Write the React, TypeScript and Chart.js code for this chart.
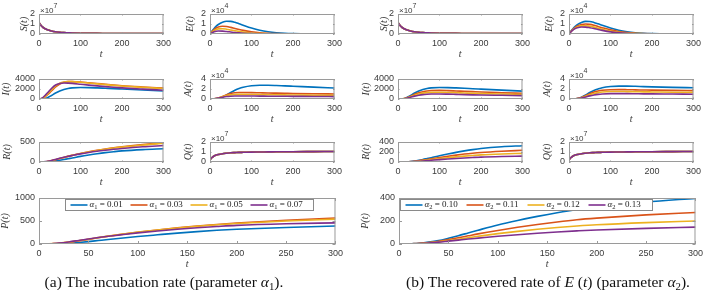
import React, { useEffect, useRef } from "react";
import { Chart, registerables } from "chart.js";

Chart.register(...registerables);

// ---------------- data ----------------
const T = [0, 5, 10, 15, 20, 30, 40, 50, 60, 70, 80, 100, 120, 140, 160, 180, 200, 250, 300];
const X_TICKS_SMALL = [0, 100, 200, 300];
const X_TICKS_WIDE = [0, 50, 100, 150, 200, 250, 300];

const ALPHA1_VALUES = ["0.01", "0.03", "0.05", "0.07"];
const ALPHA2_VALUES = ["0.10", "0.11", "0.12", "0.13"];

// S(t) and Q(t) in units of 1e7 (curves coincide for every parameter value)
const S_ALL = [1.15, 0.85, 0.65, 0.52, 0.42, 0.3, 0.22, 0.17, 0.14, 0.12, 0.1, 0.08, 0.07, 0.06, 0.055, 0.05, 0.05, 0.045, 0.04];
const Q_ALL = [0.2, 0.45, 0.6, 0.69, 0.75, 0.83, 0.88, 0.92, 0.94, 0.96, 0.97, 0.99, 1.0, 1.01, 1.02, 1.03, 1.03, 1.04, 1.05];

// panel (a): alpha1
const E_A_1 = [0, 0.3, 0.55, 0.78, 0.95, 1.17, 1.27, 1.26, 1.17, 1.03, 0.88, 0.6, 0.38, 0.23, 0.13, 0.07, 0.04, 0.01, 0];
const E_A_2 = [0, 0.25, 0.45, 0.6, 0.7, 0.77, 0.75, 0.66, 0.55, 0.45, 0.36, 0.22, 0.12, 0.07, 0.04, 0.02, 0.01, 0, 0];
const E_A_3 = [0, 0.2, 0.36, 0.46, 0.51, 0.53, 0.48, 0.4, 0.32, 0.25, 0.19, 0.1, 0.05, 0.03, 0.01, 0.01, 0, 0, 0];
const E_A_4 = [0, 0.14, 0.23, 0.28, 0.3, 0.29, 0.25, 0.2, 0.15, 0.11, 0.08, 0.04, 0.02, 0.01, 0, 0, 0, 0, 0];

const I_A_1 = [0, 0, 30, 100, 250, 700, 1200, 1600, 1900, 2100, 2220, 2300, 2280, 2220, 2150, 2080, 2000, 1800, 1600];
const I_A_2 = [0, 50, 200, 450, 800, 1600, 2400, 3000, 3350, 3470, 3480, 3400, 3250, 3100, 2950, 2800, 2650, 2400, 2200];
const I_A_3 = [0, 60, 250, 550, 950, 1800, 2600, 3150, 3400, 3480, 3470, 3350, 3200, 3030, 2880, 2730, 2600, 2320, 2100];
const I_A_4 = [0, 80, 350, 750, 1200, 2100, 2800, 3100, 3200, 3180, 3120, 2950, 2780, 2620, 2480, 2350, 2230, 1980, 1750];

const A_A_1 = [0, 0, 0.01, 0.04, 0.1, 0.35, 0.8, 1.3, 1.75, 2.1, 2.35, 2.65, 2.75, 2.75, 2.7, 2.62, 2.55, 2.38, 2.2];
const A_A_2 = [0, 0.01, 0.04, 0.1, 0.2, 0.5, 0.85, 1.1, 1.25, 1.3, 1.3, 1.28, 1.24, 1.2, 1.17, 1.14, 1.11, 1.05, 1.0];
const A_A_3 = [0, 0.01, 0.05, 0.12, 0.22, 0.45, 0.68, 0.83, 0.9, 0.92, 0.92, 0.9, 0.88, 0.86, 0.84, 0.82, 0.8, 0.76, 0.72];
const A_A_4 = [0, 0.02, 0.06, 0.12, 0.2, 0.36, 0.49, 0.56, 0.59, 0.6, 0.6, 0.59, 0.58, 0.56, 0.55, 0.54, 0.53, 0.5, 0.48];

const R_A_1 = [0, 0, 1, 3, 6, 15, 28, 45, 63, 82, 100, 140, 175, 207, 235, 258, 278, 310, 330];
const R_A_2 = [0, 0, 2, 6, 13, 32, 57, 85, 112, 140, 165, 212, 255, 292, 325, 355, 380, 435, 480];
const R_A_3 = [0, 0, 2, 7, 14, 34, 60, 88, 115, 142, 167, 212, 252, 288, 320, 348, 372, 425, 468];
const R_A_4 = [0, 1, 3, 9, 17, 38, 64, 92, 118, 142, 163, 203, 238, 268, 294, 318, 338, 380, 412];

const P_A_1 = [0, 0, 1, 3, 6, 16, 32, 52, 75, 98, 120, 162, 200, 237, 270, 298, 320, 360, 390];
const P_A_2 = [0, 1, 3, 8, 15, 38, 68, 100, 135, 168, 198, 255, 305, 350, 390, 425, 455, 515, 565];
const P_A_3 = [0, 1, 4, 9, 17, 41, 72, 105, 140, 172, 202, 258, 306, 348, 385, 417, 445, 500, 540];
const P_A_4 = [0, 1, 5, 11, 20, 45, 76, 108, 140, 168, 193, 242, 284, 320, 352, 380, 405, 440, 460];

// panel (b): alpha2
const E_B_1 = [0, 0.3, 0.55, 0.76, 0.93, 1.15, 1.26, 1.25, 1.16, 1.02, 0.87, 0.6, 0.38, 0.23, 0.13, 0.07, 0.04, 0.01, 0];
const E_B_2 = [0, 0.27, 0.5, 0.67, 0.8, 0.95, 1.0, 0.96, 0.87, 0.75, 0.63, 0.41, 0.25, 0.14, 0.08, 0.04, 0.02, 0.01, 0];
const E_B_3 = [0, 0.25, 0.46, 0.6, 0.71, 0.81, 0.83, 0.78, 0.69, 0.58, 0.48, 0.3, 0.17, 0.09, 0.05, 0.03, 0.01, 0, 0];
const E_B_4 = [0, 0.23, 0.42, 0.55, 0.63, 0.7, 0.69, 0.63, 0.55, 0.45, 0.36, 0.21, 0.12, 0.06, 0.03, 0.02, 0.01, 0, 0];

const I_B_1 = [0, 0, 30, 100, 250, 700, 1200, 1600, 1900, 2100, 2220, 2300, 2280, 2220, 2150, 2060, 1980, 1780, 1580];
const I_B_2 = [0, 0, 25, 85, 200, 550, 930, 1240, 1460, 1610, 1690, 1720, 1680, 1610, 1540, 1470, 1400, 1260, 1130];
const I_B_3 = [0, 0, 22, 70, 165, 450, 760, 1000, 1170, 1280, 1330, 1350, 1310, 1250, 1190, 1130, 1080, 990, 920];
const I_B_4 = [0, 0, 18, 55, 125, 340, 570, 750, 880, 950, 990, 1000, 970, 920, 870, 830, 800, 740, 680];

const A_B_1 = [0, 0, 0.01, 0.04, 0.1, 0.35, 0.8, 1.3, 1.7, 2.0, 2.25, 2.5, 2.58, 2.58, 2.54, 2.48, 2.43, 2.33, 2.25];
const A_B_2 = [0, 0, 0.01, 0.04, 0.1, 0.3, 0.65, 1.05, 1.38, 1.6, 1.75, 1.86, 1.88, 1.86, 1.83, 1.8, 1.77, 1.72, 1.68];
const A_B_3 = [0, 0, 0.01, 0.04, 0.09, 0.26, 0.55, 0.85, 1.1, 1.28, 1.4, 1.5, 1.5, 1.48, 1.46, 1.43, 1.41, 1.36, 1.32];
const A_B_4 = [0, 0, 0.01, 0.03, 0.07, 0.2, 0.42, 0.63, 0.8, 0.93, 1.01, 1.07, 1.08, 1.07, 1.05, 1.03, 1.02, 0.99, 0.96];

const R_B_1 = [0, 0, 0, 1, 3, 9, 20, 34, 50, 68, 86, 125, 160, 193, 222, 248, 270, 305, 325];
const R_B_2 = [0, 0, 0, 1, 2, 7, 15, 25, 37, 50, 63, 90, 115, 138, 159, 176, 190, 215, 234];
const R_B_3 = [0, 0, 0, 1, 2, 5, 11, 19, 28, 38, 48, 68, 86, 103, 118, 131, 143, 161, 172];
const R_B_4 = [0, 0, 0, 0, 1, 4, 8, 14, 20, 27, 34, 48, 60, 71, 81, 90, 98, 110, 118];

const P_B_1 = [0, 0, 1, 3, 6, 16, 30, 50, 72, 96, 120, 166, 205, 240, 272, 300, 322, 365, 397];
const P_B_2 = [0, 0, 1, 3, 5, 13, 24, 38, 54, 71, 88, 118, 145, 170, 192, 211, 225, 253, 274];
const P_B_3 = [0, 0, 1, 2, 4, 10, 19, 30, 42, 55, 67, 90, 110, 128, 143, 156, 167, 186, 200];
const P_B_4 = [0, 0, 1, 2, 4, 9, 16, 25, 34, 43, 51, 67, 81, 94, 105, 114, 122, 136, 147];

// y tick labels
const TICKS_0_1_2 = [0, 1, 2];
const TICKS_0_2_4 = [0, 2, 4];
const TICKS_I = [0, 2000, 4000];
const TICKS_R_A = [0, 500];
const TICKS_0_200_400 = [0, 200, 400];
const TICKS_P_A = [0, 500, 1000];

// ---------------- styling ----------------
const COLORS = ["#0072BD", "#D95319", "#EDB120", "#7E2F8E"];
const TICK_COLOR = "#3a3a3a";
const BOX_COLOR = "#9a9a9a";
const SANS = '"Liberation Sans", Arial, sans-serif';
const SERIF = '"Liberation Serif", "Times New Roman", serif';

const YW = 42; // y-axis box width
const TM = 12; // top margin
const RM = 8; // right margin
const XH = 28; // x-axis box height

type Cfg = {
  key: string;
  left: number; top: number; right: number; bottom: number;
  series: number[][];
  ymax: number; yticks: number[];
  xticks: number[];
  ylabel: string; yOff: number;
  exp?: string;
  legend?: { x: number; w: number; sub: string; values: string[] };
  tickLen: number;
};

const boxPlugin = {
  id: "matBox",
  afterDatasetsDraw(chart: any, _a: any, opts: any) {
    const { ctx, chartArea: a, scales } = chart;
    ctx.save();
    ctx.strokeStyle = BOX_COLOR;
    ctx.lineWidth = 1;
    ctx.strokeRect(a.left + 0.5, a.top + 0.5, a.right - a.left - 1, a.bottom - a.top - 1);
    const L = opts.len || 2;
    ctx.beginPath();
    scales.x.ticks.forEach((t: any) => {
      const px = Math.round(scales.x.getPixelForValue(t.value)) + 0.5;
      ctx.moveTo(px, a.bottom); ctx.lineTo(px, a.bottom - L);
      ctx.moveTo(px, a.top); ctx.lineTo(px, a.top + L);
    });
    scales.y.ticks.forEach((t: any) => {
      const py = Math.round(scales.y.getPixelForValue(t.value)) + 0.5;
      ctx.moveTo(a.left, py); ctx.lineTo(a.left + L, py);
      ctx.moveTo(a.right, py); ctx.lineTo(a.right - L, py);
    });
    ctx.stroke();
    ctx.restore();
  },
};

const expPlugin = {
  id: "matExp",
  afterDraw(chart: any, _a: any, opts: any) {
    if (!opts.exp) return;
    const { ctx, chartArea: a } = chart;
    ctx.save();
    ctx.fillStyle = TICK_COLOR;
    ctx.textBaseline = "alphabetic";
    ctx.textAlign = "left";
    ctx.font = `8px ${SANS}`;
    const x = a.left + 1;
    const y = a.top - 1.5;
    ctx.fillText("×10", x, y);
    const w = ctx.measureText("×10").width;
    ctx.font = `7px ${SANS}`;
    ctx.fillText(opts.exp, x + w, y - 5);
    ctx.restore();
  },
};

const legendPlugin = {
  id: "matLegend",
  afterDatasetsDraw(chart: any, _a: any, opts: any) {
    if (!opts.show) return;
    const { ctx, chartArea: a } = chart;
    const bx = Math.round(a.left + opts.x) + 0.5;
    const by = Math.round(a.top + 1) + 0.5;
    const bw = opts.w;
    const bh = 11;
    ctx.save();
    ctx.fillStyle = "#ffffff";
    ctx.fillRect(bx, by, bw, bh);
    ctx.strokeStyle = "#8a8a8a";
    ctx.lineWidth = 1;
    ctx.strokeRect(bx, by, bw, bh);
    const pitch = (bw - 8) / chart.data.datasets.length;
    const cy = by + bh / 2;
    chart.data.datasets.forEach((ds: any, i: number) => {
      let x = bx + 5 + i * pitch;
      ctx.strokeStyle = ds.borderColor;
      ctx.lineWidth = 1.6;
      ctx.beginPath();
      ctx.moveTo(x, cy); ctx.lineTo(x + 17, cy);
      ctx.stroke();
      x += 19;
      const label: string = ds.label;
      ctx.fillStyle = "#222";
      ctx.textBaseline = "middle";
      ctx.textAlign = "left";
      ctx.font = `italic 9px ${SERIF}`;
      ctx.fillText(label[0], x, cy);
      x += ctx.measureText(label[0]).width;
      ctx.font = `6.5px ${SERIF}`;
      ctx.fillText(label[1], x, cy + 2);
      x += ctx.measureText(label[1]).width;
      ctx.font = `9px ${SERIF}`;
      ctx.fillText(label.slice(2), x, cy);
    });
    ctx.restore();
  },
};

const plainTick = (v: any) => String(v);

function Subplot({ cfg }: { cfg: Cfg }) {
  const ref = useRef<HTMLCanvasElement | null>(null);
  const W = cfg.right - cfg.left + YW + RM;
  const H = cfg.bottom - cfg.top + TM + XH;
  useEffect(() => {
    if (!ref.current) return;
    const chart = new Chart(ref.current, {
      type: "line",
      data: {
        datasets: cfg.series.map((arr, i) => ({
          label: cfg.legend ? `α${cfg.legend.sub} = ${cfg.legend.values[i]}` : `s${i}`,
          data: T.map((t, j) => ({ x: t, y: arr[j] })),
          borderColor: COLORS[i],
          backgroundColor: COLORS[i],
          borderWidth: 1.6,
          pointRadius: 0,
          fill: false,
          cubicInterpolationMode: "monotone",
          order: cfg.series.length - 1 - i,
        })),
      },
      options: {
        animation: false,
        responsive: false,
        maintainAspectRatio: false,
        events: [],
        layout: { padding: { top: TM, right: RM, left: 0, bottom: 0 } },
        plugins: {
          legend: { display: false },
          tooltip: { enabled: false },
          matBox: { len: cfg.tickLen },
          matExp: { exp: cfg.exp },
          matLegend: cfg.legend ? { show: true, x: cfg.legend.x, w: cfg.legend.w } : { show: false },
        } as any,
        scales: {
          x: {
            type: "linear",
            min: 0,
            max: 300,
            afterBuildTicks: (s: any) => { s.ticks = cfg.xticks.map((v) => ({ value: v })); },
            afterFit: (s: any) => { s.height = XH; },
            grid: { display: false, drawTicks: false },
            border: { display: false },
            ticks: { font: { family: SANS, size: 9 }, color: TICK_COLOR, padding: 4, maxRotation: 0, autoSkip: false, callback: plainTick },
            title: { display: true, text: "t", color: "#333", font: { family: SERIF, size: 10, style: "italic" }, padding: { top: 0, bottom: XH - 20 - 6 } },
          },
          y: {
            type: "linear",
            min: 0,
            max: cfg.ymax,
            afterBuildTicks: (s: any) => { s.ticks = cfg.yticks.map((v) => ({ value: v })); },
            afterFit: (s: any) => { s.width = YW; },
            grid: { display: false, drawTicks: false },
            border: { display: false },
            ticks: { font: { family: SANS, size: 9 }, color: TICK_COLOR, padding: 4, autoSkip: false, callback: plainTick },
            title: { display: true, text: cfg.ylabel, color: "#333", font: { family: SERIF, size: 10, style: "italic" }, padding: { top: YW - cfg.yOff - 6, bottom: 0 } },
          },
        },
      } as any,
      plugins: [boxPlugin, expPlugin, legendPlugin],
    });
    return () => chart.destroy();
  }, []);
  return (
    <canvas
      ref={ref}
      width={W}
      height={H}
      style={{ position: "absolute", left: cfg.left - YW, top: cfg.top - TM, width: W, height: H }}
    />
  );
}

const S4 = [S_ALL, S_ALL, S_ALL, S_ALL];
const Q4 = [Q_ALL, Q_ALL, Q_ALL, Q_ALL];

const ROW1 = [14, 34];
const ROW2 = [79, 99];
const ROW3 = [142, 162];
const ROWP = [198, 244];
const COL_AL = [39, 167];
const COL_AR = [210, 338];
const COL_BL = [398, 526];
const COL_BR = [569, 697];
const COL_PA = [39, 339];
const COL_PB = [399, 699];

function mk(key: string, col: number[], row: number[], rest: Partial<Cfg>): Cfg {
  return {
    key, left: col[0], right: col[1], top: row[0], bottom: row[1],
    series: [], ymax: 1, yticks: [], xticks: X_TICKS_SMALL, ylabel: "", yOff: 20, tickLen: 1.5,
    ...rest,
  } as Cfg;
}

const CONFIGS: Cfg[] = [
  // panel (a)
  mk("Sa", COL_AL, ROW1, { series: S4, ymax: 2, yticks: TICKS_0_1_2, ylabel: "S(t)", yOff: 15, exp: "7" }),
  mk("Ea", COL_AR, ROW1, { series: [E_A_1, E_A_2, E_A_3, E_A_4], ymax: 2, yticks: TICKS_0_1_2, ylabel: "E(t)", yOff: 20, exp: "4" }),
  mk("Ia", COL_AL, ROW2, { series: [I_A_1, I_A_2, I_A_3, I_A_4], ymax: 4000, yticks: TICKS_I, ylabel: "I(t)", yOff: 33 }),
  mk("Aa", COL_AR, ROW2, { series: [A_A_1, A_A_2, A_A_3, A_A_4], ymax: 4, yticks: TICKS_0_2_4, ylabel: "A(t)", yOff: 22, exp: "4" }),
  mk("Ra", COL_AL, ROW3, { series: [R_A_1, R_A_2, R_A_3, R_A_4], ymax: 500, yticks: TICKS_R_A, ylabel: "R(t)", yOff: 32 }),
  mk("Qa", COL_AR, ROW3, { series: Q4, ymax: 2, yticks: TICKS_0_1_2, ylabel: "Q(t)", yOff: 22, exp: "7" }),
  mk("Pa", COL_PA, ROWP, {
    series: [P_A_1, P_A_2, P_A_3, P_A_4], ymax: 1000, yticks: TICKS_P_A, xticks: X_TICKS_WIDE, ylabel: "P(t)", yOff: 34, tickLen: 3,
    legend: { x: 26, w: 248, sub: "1", values: ALPHA1_VALUES },
  }),
  // panel (b)
  mk("Sb", COL_BL, ROW1, { series: S4, ymax: 2, yticks: TICKS_0_1_2, ylabel: "S(t)", yOff: 14, exp: "7" }),
  mk("Eb", COL_BR, ROW1, { series: [E_B_1, E_B_2, E_B_3, E_B_4], ymax: 2, yticks: TICKS_0_1_2, ylabel: "E(t)", yOff: 20, exp: "4" }),
  mk("Ib", COL_BL, ROW2, { series: [I_B_1, I_B_2, I_B_3, I_B_4], ymax: 4000, yticks: TICKS_I, ylabel: "I(t)", yOff: 32 }),
  mk("Ab", COL_BR, ROW2, { series: [A_B_1, A_B_2, A_B_3, A_B_4], ymax: 4, yticks: TICKS_0_2_4, ylabel: "A(t)", yOff: 22, exp: "4" }),
  mk("Rb", COL_BL, ROW3, { series: [R_B_1, R_B_2, R_B_3, R_B_4], ymax: 400, yticks: TICKS_0_200_400, ylabel: "R(t)", yOff: 32 }),
  mk("Qb", COL_BR, ROW3, { series: Q4, ymax: 2, yticks: TICKS_0_1_2, ylabel: "Q(t)", yOff: 22, exp: "7" }),
  mk("Pb", COL_PB, ROWP, {
    series: [P_B_1, P_B_2, P_B_3, P_B_4], ymax: 400, yticks: TICKS_0_200_400, xticks: X_TICKS_WIDE, ylabel: "P(t)", yOff: 34, tickLen: 3,
    legend: { x: 1, w: 252, sub: "2", values: ALPHA2_VALUES },
  }),
];

const subStyle: React.CSSProperties = { fontSize: "70%", verticalAlign: "-0.3em", lineHeight: 0 };
const captionStyle: React.CSSProperties = {
  position: "absolute", top: 273, textAlign: "center", fontFamily: SERIF, fontSize: 15.5,
  color: "#111", whiteSpace: "nowrap", lineHeight: "18px",
};

export default function App() {
  return (
    <div style={{ position: "fixed", left: 0, top: 0, width: 709, height: 290, background: "#fff", overflow: "hidden" }}>
      {CONFIGS.map((c) => <Subplot key={c.key} cfg={c} />)}
      <div style={{ ...captionStyle, left: 0, width: 328 }}>
        (a) The incubation rate (parameter <i>α</i><span style={subStyle}>1</span>).
      </div>
      <div style={{ ...captionStyle, left: 398, width: 300 }}>
        (b) The recovered rate of <i>E</i> (<i>t</i>) (parameter <i>α</i><span style={subStyle}>2</span>).
      </div>
    </div>
  );
}
